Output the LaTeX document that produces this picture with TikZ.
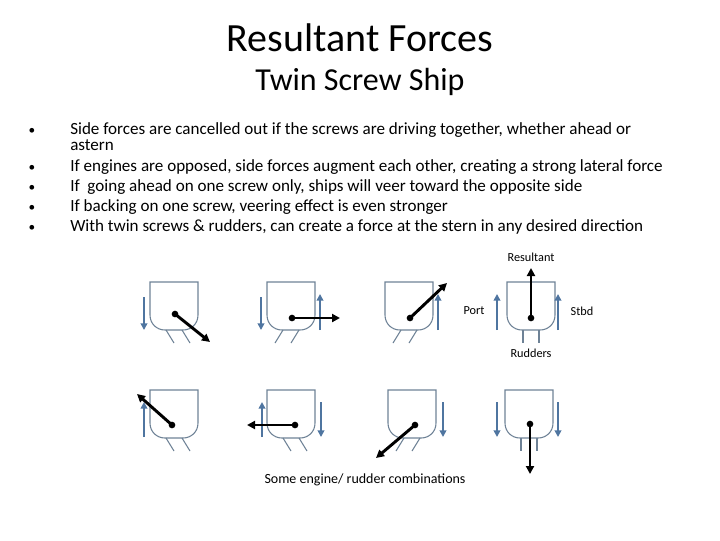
\documentclass[tikz,border=0pt]{standalone}
\usepackage{fontspec}
\setmainfont{Carlito}
\usetikzlibrary{arrows.meta}
\definecolor{hullc}{RGB}{110,130,150}
\definecolor{propc}{RGB}{79,117,160}
\tikzset{
  hullline/.style={draw=hullc, line width=0.8pt},
  prop/.style={draw=propc, line width=1.6pt, -{Triangle[length=5pt,width=5pt]}},
  res/.style={draw=black, line width=2.2pt, -{Triangle[length=6pt,width=6pt]}},
  dot/.style={circle, fill=black, inner sep=0pt, minimum size=5pt},
  lbl/.style={font=\fontsize{9.2}{10}\selectfont},
  pics/ship/.style={code={
    \draw[hullline] (0,0) -- (0,33) .. controls (0,42) and (7,48) .. (15,48) -- (33,48) .. controls (41,48) and (48,42) .. (48,33) -- (48,0) -- cycle;
    \draw[hullline] (16,48) -- ++(#1,13) (32,48) -- ++(#1,13);
  }}
}
\begin{document}
\begin{tikzpicture}[x=0.75pt,y=-0.75pt]
\useasboundingbox (0,0) rectangle (720,540);
\node (t1) at (360,38) {\fontsize{30}{33}\selectfont Resultant Forces};
\node (t2) at (360,82) {\fontsize{24}{28}\selectfont Twin Screw Ship};
\begin{scope}[every node/.style={anchor=north west, inner sep=0pt, font=\fontsize{12.8}{12.5}\selectfont}]
\node (b1) at (70,122) {\parbox[t]{500pt}{Side forces are cancelled out if the screws are driving together, whether ahead or\\astern}};
\node (b2) at (70,159) {If engines are opposed, side forces augment each other, creating a strong lateral force};
\node (b3) at (70,179) {If\ \ going ahead on one screw only, ships will veer toward the opposite side};
\node (b4) at (70,199) {If backing on one screw, veering effect is even stronger};
\node (b5) at (70,219) {With twin screws \& rudders, can create a force at the stern in any desired direction};
\end{scope}
\foreach \y in {131,168,188,208,228} \node[font=\fontsize{10}{10}\selectfont] at (32,\y) {•};
% row 1
\pic at (150,282) {ship=8};
\pic at (267,282) {ship=-8};
\pic at (385,282) {ship=-8};
\pic at (507,282) {ship=0};
\draw[prop] (144,297) -- (144,330);
\draw[prop] (261,297) -- (261,330);
\draw[prop] (320,330) -- (320,294);
\draw[prop] (438,330) -- (438,294);
\draw[prop] (497,330) -- (497,294);
\draw[prop] (558,330) -- (558,294);
\node[dot] (d1) at (175,314) {}; \coordinate (e1) at (210,342); \draw[res] (d1.center) -- (e1);
\node[dot] (d2) at (292,318) {}; \coordinate (e2) at (340,318); \draw[res] (d2.center) -- (e2);
\node[dot] (d3) at (410,318) {}; \coordinate (e3) at (447,283); \draw[res] (d3.center) -- (e3);
\node[dot] (d4) at (531,318) {}; \coordinate (e4) at (531,268); \draw[res] (d4.center) -- (e4);
\node[lbl] (l1) at (531,257) {Resultant};
\node[lbl] (l2) at (474,311) {Port};
\node[lbl] (l3) at (582,311) {Stbd};
\node[lbl] (l4) at (531,353) {Rudders};
% row 2
\pic at (150,390) {ship=8};
\pic at (267,390) {ship=8};
\pic at (388,390) {ship=-8};
\pic at (505,390) {ship=0};
\draw[prop] (144,437) -- (144,402);
\draw[prop] (262,437) -- (262,402);
\draw[prop] (321,402) -- (321,437);
\draw[prop] (443,402) -- (443,437);
\draw[prop] (497,402) -- (497,437);
\draw[prop] (558,402) -- (558,437);
\node[dot] (d5) at (172,425) {}; \coordinate (e5) at (137,394); \draw[res] (d5.center) -- (e5);
\node[dot] (d6) at (295,425) {}; \coordinate (e6) at (247,425); \draw[res] (d6.center) -- (e6);
\node[dot] (d7) at (415,425) {}; \coordinate (e7) at (376,458); \draw[res] (d7.center) -- (e7);
\node[dot] (d8) at (530,424) {}; \coordinate (e8) at (530,474); \draw[res] (d8.center) -- (e8);
\node[lbl, font=\fontsize{10.5}{11}\selectfont] (l5) at (365,480) {Some engine/ rudder combinations};
\end{tikzpicture}
\end{document}
